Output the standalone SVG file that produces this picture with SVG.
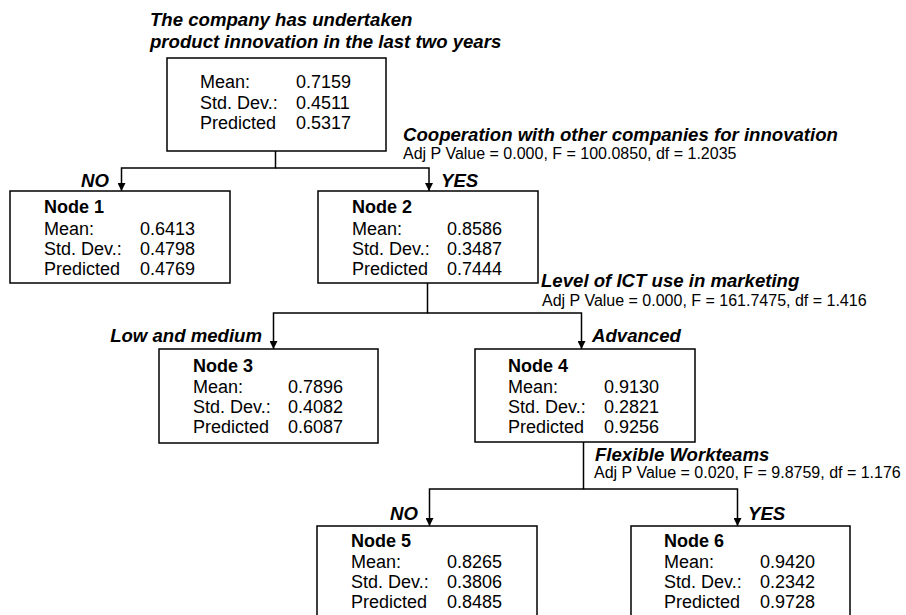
<svg xmlns="http://www.w3.org/2000/svg" width="906" height="615" viewBox="0 0 906 615">
<style>
text{font-family:"Liberation Sans",Arial,sans-serif;fill:#000}
.t{font-size:18px}
.b{font-size:18px;font-weight:bold}
.bi{font-size:18.6px;font-weight:bold;font-style:italic}
.s{font-size:16px}
.box{fill:#fff;stroke:#000;stroke-width:1.5}
.c{fill:none;stroke:#000;stroke-width:1.5}
</style>
<defs>
<marker id="ah" viewBox="0 0 10 10" refX="10" refY="5" markerWidth="11" markerHeight="8" markerUnits="userSpaceOnUse" orient="auto">
<path d="M0,0 L10,5 L0,10 z" fill="#000"/>
</marker>
</defs>
<g id="connectors">
<path class="c" d="M275.5,151 V168 H121.5 V191" marker-end="url(#ah)"/>
<path class="c" d="M275.5,168 H429 V191" marker-end="url(#ah)"/>
<path class="c" d="M427.5,283 V313 H273.5 V349" marker-end="url(#ah)"/>
<path class="c" d="M427.5,313 H581.5 V349" marker-end="url(#ah)"/>
<path class="c" d="M583.5,442 V489 H429.5 V526" marker-end="url(#ah)"/>
<path class="c" d="M583.5,489 H737.5 V526" marker-end="url(#ah)"/>
</g>
<g id="labels">
<text class="bi" x="150" y="26">The company has undertaken</text>
<text class="bi" x="150" y="48">product innovation in the last two years</text>
<text class="bi" x="403" y="141">Cooperation with other companies for innovation</text>
<text class="s" x="403" y="159">Adj P Value = 0.000, F = 100.0850, df = 1.2035</text>
<text class="bi" x="109" y="187" text-anchor="end">NO</text>
<text class="bi" x="441" y="187">YES</text>
<text class="bi" x="541" y="287">Level of ICT use in marketing</text>
<text class="s" x="542" y="306">Adj P Value = 0.000, F = 161.7475, df = 1.416</text>
<text class="bi" x="262" y="342" text-anchor="end">Low and medium</text>
<text class="bi" x="592" y="342">Advanced</text>
<text class="bi" x="595" y="461">Flexible Workteams</text>
<text class="s" x="594" y="478">Adj P Value = 0.020, F = 9.8759, df = 1.176</text>
<text class="bi" x="418" y="520" text-anchor="end">NO</text>
<text class="bi" x="748" y="520">YES</text>
</g>
<g id="root">
<rect class="box" x="167" y="58" width="219" height="93"/>
<text class="t" x="200" y="88">Mean:</text><text class="t" x="296" y="88">0.7159</text>
<text class="t" x="200" y="109">Std. Dev.:</text><text class="t" x="296" y="109">0.4511</text>
<text class="t" x="200" y="129">Predicted</text><text class="t" x="296" y="129">0.5317</text>
</g>
<g id="node1">
<rect class="box" x="10" y="191" width="220" height="92"/>
<text class="b" x="44" y="213">Node 1</text>
<text class="t" x="44" y="235">Mean:</text><text class="t" x="140" y="235">0.6413</text>
<text class="t" x="44" y="255">Std. Dev.:</text><text class="t" x="140" y="255">0.4798</text>
<text class="t" x="44" y="275">Predicted</text><text class="t" x="140" y="275">0.4769</text>
</g>
<g id="node2">
<rect class="box" x="318" y="191" width="220" height="92"/>
<text class="b" x="352" y="213">Node 2</text>
<text class="t" x="352" y="235">Mean:</text><text class="t" x="447" y="235">0.8586</text>
<text class="t" x="352" y="255">Std. Dev.:</text><text class="t" x="447" y="255">0.3487</text>
<text class="t" x="352" y="275">Predicted</text><text class="t" x="447" y="275">0.7444</text>
</g>
<g id="node3">
<rect class="box" x="159" y="349" width="219" height="94"/>
<text class="b" x="193" y="372">Node 3</text>
<text class="t" x="193" y="393">Mean:</text><text class="t" x="288" y="393">0.7896</text>
<text class="t" x="193" y="413">Std. Dev.:</text><text class="t" x="288" y="413">0.4082</text>
<text class="t" x="193" y="433">Predicted</text><text class="t" x="288" y="433">0.6087</text>
</g>
<g id="node4">
<rect class="box" x="475" y="349" width="220" height="93"/>
<text class="b" x="508" y="372">Node 4</text>
<text class="t" x="508" y="393">Mean:</text><text class="t" x="604" y="393">0.9130</text>
<text class="t" x="508" y="413">Std. Dev.:</text><text class="t" x="604" y="413">0.2821</text>
<text class="t" x="508" y="433">Predicted</text><text class="t" x="604" y="433">0.9256</text>
</g>
<g id="node5">
<rect class="box" x="317" y="526" width="220" height="110"/>
<text class="b" x="351" y="547">Node 5</text>
<text class="t" x="351" y="568">Mean:</text><text class="t" x="447" y="568">0.8265</text>
<text class="t" x="351" y="588">Std. Dev.:</text><text class="t" x="447" y="588">0.3806</text>
<text class="t" x="351" y="608">Predicted</text><text class="t" x="447" y="608">0.8485</text>
</g>
<g id="node6">
<rect class="box" x="631" y="526" width="219" height="110"/>
<text class="b" x="664" y="547">Node 6</text>
<text class="t" x="664" y="568">Mean:</text><text class="t" x="760" y="568">0.9420</text>
<text class="t" x="664" y="588">Std. Dev.:</text><text class="t" x="760" y="588">0.2342</text>
<text class="t" x="664" y="608">Predicted</text><text class="t" x="760" y="608">0.9728</text>
</g>
</svg>
